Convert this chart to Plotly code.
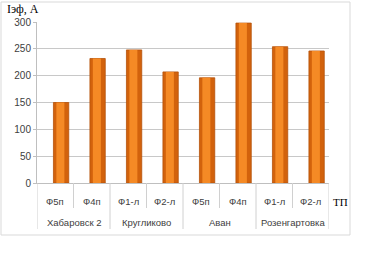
import plotly.graph_objects as go

stations = ["Хабаровск 2", "Кругликово", "Аван", "Розенгартовка"]
feeders = ["Ф5п", "Ф4п", "Ф1-л", "Ф2-л", "Ф5п", "Ф4п", "Ф1-л", "Ф2-л"]
values = [150, 232, 248, 207, 196, 298, 254, 246]
y_ticks = [0, 50, 100, 150, 200, 250, 300]

W, H = 365, 253
L, R, T, B = 37, 329, 22, 183

def px_x(p):
    return (p - L) / (R - L)

def px_y(p):
    return (B - p) / (B - T)

idx = list(range(len(feeders)))
per_group = len(feeders) // len(stations)

fig = go.Figure()
fig.add_trace(go.Bar(x=idx, y=values, width=0.42, offset=-0.05,
                     marker=dict(color="#D2620C", line=dict(color="#B5520A", width=0.8)),
                     hoverinfo="skip"))
fig.add_trace(go.Bar(x=idx, y=values, width=0.22, offset=0.03,
                     marker=dict(color="#F58A25", line=dict(width=0)),
                     hoverinfo="skip"))

shapes = [dict(type="rect", xref="paper", yref="paper",
               x0=px_x(1), x1=px_x(350), y0=px_y(235), y1=px_y(2),
               line=dict(color="#D9D9D9", width=1), layer="below")]
annotations = []
# dividers between categories
for i in range(len(feeders) + 1):
    b = i - 0.5
    is_group = (i % per_group == 0)
    shapes.append(dict(type="line", xref="x", yref="paper", x0=b, x1=b,
                       y0=px_y(B), y1=px_y(229 if is_group else 208),
                       line=dict(color="#D0D0D0", width=1)))
for i, f in enumerate(feeders):
    annotations.append(dict(text=f, xref="x", yref="paper", x=i, y=px_y(202),
                            xanchor="center", yanchor="middle", showarrow=False,
                            font=dict(size=9.5, color="#404040")))
for g, s in enumerate(stations):
    annotations.append(dict(text=s, xref="x", yref="paper",
                            x=g * per_group + (per_group - 1) / 2, y=px_y(222),
                            xanchor="center", yanchor="middle", showarrow=False,
                            font=dict(size=9.5, color="#404040")))
annotations += [
    dict(text="Iэф, A", xref="paper", yref="paper", x=px_x(5), y=px_y(9),
         xanchor="left", yanchor="middle", showarrow=False,
         font=dict(family="Liberation Serif, Times New Roman, serif", size=12, color="black")),
    dict(text="ТП", xref="paper", yref="paper", x=px_x(340), y=px_y(202),
         xanchor="center", yanchor="middle", showarrow=False,
         font=dict(family="Liberation Serif, Times New Roman, serif", size=11, color="black")),
]

fig.update_layout(
    width=W, height=H, barmode="overlay", showlegend=False,
    margin=dict(l=L, r=W - R, t=T, b=H - B, pad=0),
    paper_bgcolor="white", plot_bgcolor="white",
    font=dict(family="Liberation Sans, Arial, sans-serif", size=10, color="#404040"),
    xaxis=dict(range=[-0.5, len(feeders) - 0.5], showgrid=False, showline=True,
               linecolor="#BFBFBF", showticklabels=False, ticks="", zeroline=False),
    yaxis=dict(range=[0, 300], tickvals=y_ticks, showgrid=True, gridcolor="#C8C8C8",
               gridwidth=1, showline=True, linecolor="#BFBFBF", ticks="outside",
               ticklen=3, tickcolor="#BFBFBF", zeroline=False,
               tickfont=dict(size=10, color="#404040")),
    shapes=shapes,
    annotations=annotations,
)

fig.write_html("out.html")
